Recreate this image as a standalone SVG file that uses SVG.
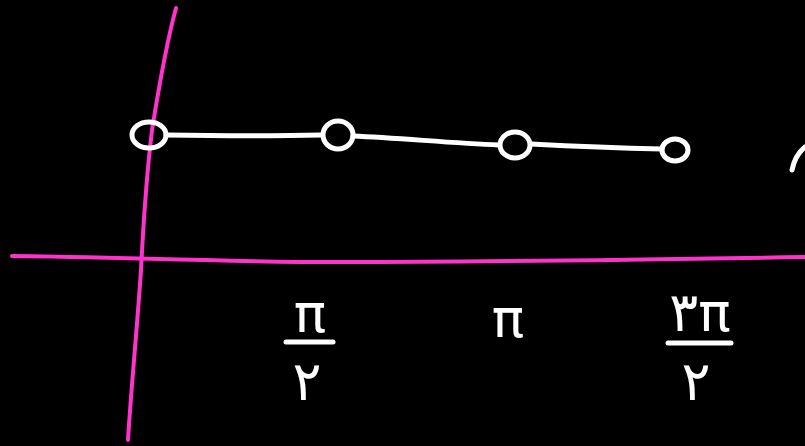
<svg xmlns="http://www.w3.org/2000/svg" width="805" height="446" viewBox="0 0 805 446">
<style>
.axis{fill:none;stroke:#ff33cc;stroke-width:4;stroke-linecap:round;stroke-linejoin:round}
.ink{fill:none;stroke:#ffffff;stroke-width:5;stroke-linecap:round;stroke-linejoin:round}
.lbl{fill:#ffffff;font-family:"DejaVu Sans","Noto Sans",sans-serif;font-size:54px;text-anchor:middle}
</style>
<rect width="805" height="446" fill="#000000"/>
<g id="axes">
<path class="axis" d="M176,8 C170,30 160,80 152,130 C146,180 143,230 141,270 C137,330 131,390 128,440"/>
<path class="axis" d="M12,256 C120,257 220,262 340,262 C480,262 620,260 805,257"/>
</g>
<g id="connectors">
<path class="ink" d="M166,135 C220,136 280,136 322,135"/>
<path class="ink" d="M353,136 C400,138 450,143 499,145"/>
<path class="ink" d="M531,144 C570,146 620,148 662,149"/>
<path class="ink" d="M792,170 C794,160 799,152 805,147"/>
</g>
<g id="node-0"><ellipse class="ink" cx="149" cy="135" rx="17" ry="13"/></g>
<g id="node-1"><ellipse class="ink" cx="338" cy="135" rx="15" ry="14"/></g>
<g id="node-2"><ellipse class="ink" cx="515" cy="145" rx="15" ry="13"/></g>
<g id="node-3"><ellipse class="ink" cx="675" cy="150" rx="13" ry="11"/></g>
<g id="label-pi-2">
<text class="lbl" x="310" y="332">π</text>
<line class="ink" x1="286" y1="342" x2="333" y2="342"/>
<text class="lbl" x="307" y="400">۲</text>
</g>
<g id="label-pi">
<text class="lbl" x="508" y="337">π</text>
</g>
<g id="label-3pi-2">
<text class="lbl" x="700" y="331">۳π</text>
<line class="ink" x1="668" y1="343" x2="731" y2="343"/>
<text class="lbl" x="696" y="400">۲</text>
</g>
</svg>
